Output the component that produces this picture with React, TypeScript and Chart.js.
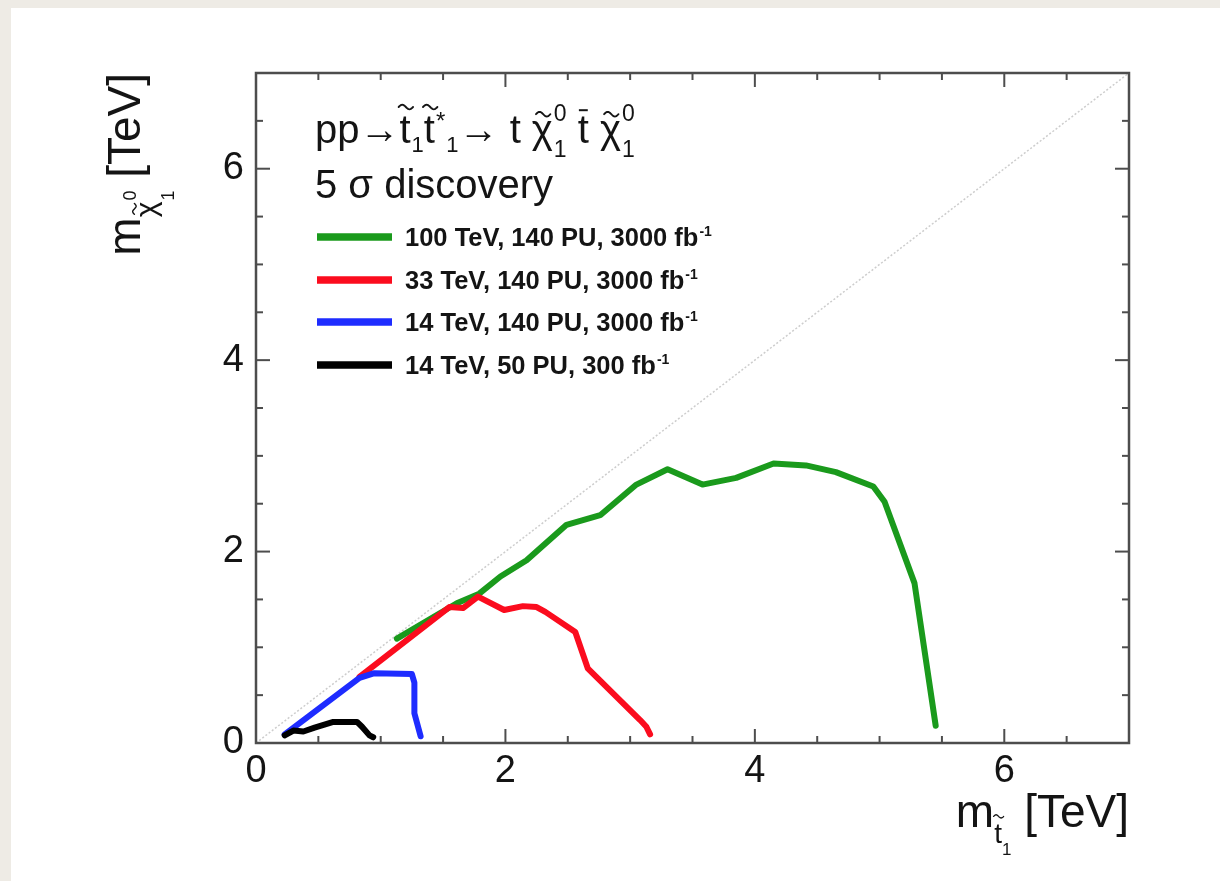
import React, { useEffect, useRef } from "react";
import { Chart, registerables } from "chart.js";

Chart.register(...registerables);

const FONT = '"Liberation Sans", Arial, Helvetica, sans-serif';

// Axis ranges (TeV) and tick layout
const axisMin = 0;
const axisMax = 7;
const tickStep = 0.5;
const labelledTicks = [0, 2, 4, 6];

// Legend entries, drawn top to bottom
const seriesLabels = [
  "100 TeV, 140 PU, 3000 fb^{-1}",
  "33 TeV, 140 PU, 3000 fb^{-1}",
  "14 TeV, 140 PU, 3000 fb^{-1}",
  "14 TeV, 50 PU, 300 fb^{-1}",
];
const seriesColors = ["#1a9a1c", "#fb0c1e", "#1e2cff", "#000000"];

// 100 TeV, 140 PU, 3000 fb-1 : stop mass vs neutralino mass (TeV)
const stop100 = [1.13, 1.31, 1.61, 1.79, 1.96, 2.17, 2.49, 2.76, 3.05, 3.3, 3.58, 3.85, 4.15, 4.41, 4.65, 4.95, 5.04, 5.28, 5.45];
const lsp100 = [1.09, 1.23, 1.46, 1.56, 1.74, 1.91, 2.28, 2.38, 2.7, 2.86, 2.7, 2.77, 2.92, 2.9, 2.83, 2.68, 2.52, 1.67, 0.18];

// 33 TeV, 140 PU, 3000 fb-1
const stop33 = [0.83, 1.55, 1.66, 1.78, 1.99, 2.14, 2.25, 2.32, 2.56, 2.66, 3.08, 3.13, 3.16];
const lsp33 = [0.69, 1.42, 1.41, 1.53, 1.39, 1.43, 1.42, 1.37, 1.16, 0.78, 0.24, 0.17, 0.09];

// 14 TeV, 140 PU, 3000 fb-1
const stop14hl = [0.23, 0.83, 0.95, 1.25, 1.27, 1.27, 1.32];
const lsp14hl = [0.09, 0.68, 0.73, 0.72, 0.63, 0.31, 0.07];

// 14 TeV, 50 PU, 300 fb-1
const stop14 = [0.23, 0.3, 0.38, 0.47, 0.62, 0.81, 0.85, 0.91, 0.94];
const lsp14 = [0.08, 0.13, 0.12, 0.16, 0.22, 0.22, 0.17, 0.08, 0.06];

// Kinematic diagonal m_stop = m_LSP
const diagonal = [0, 7];

const seriesX = [stop100, stop33, stop14hl, stop14];
const seriesY = [lsp100, lsp33, lsp14hl, lsp14];

type Run = {
  t: string;
  size: number;
  dy?: number;
  bold?: boolean;
  tilde?: boolean;
  tildeAt?: number;
  bar?: boolean;
  sup?: string;
  sub?: string;
  scriptSize?: number;
  supDy?: number;
  subDy?: number;
};

function setFont(ctx: CanvasRenderingContext2D, size: number, bold?: boolean) {
  ctx.font = `${bold ? "bold " : ""}${size}px ${FONT}`;
}

function runWidth(ctx: CanvasRenderingContext2D, r: Run) {
  setFont(ctx, r.size, r.bold);
  let w = r.t ? ctx.measureText(r.t).width : 0;
  if (r.sup || r.sub) {
    setFont(ctx, r.scriptSize || r.size * 0.6, r.bold);
    const a = r.sup ? ctx.measureText(r.sup).width : 0;
    const b = r.sub ? ctx.measureText(r.sub).width : 0;
    w += Math.max(a, b) + 1;
  }
  return w;
}

function drawTilde(ctx: CanvasRenderingContext2D, cx: number, cy: number, w: number) {
  const h = w * 0.16;
  ctx.save();
  ctx.lineWidth = Math.max(1.3, w * 0.13);
  ctx.strokeStyle = ctx.fillStyle as string;
  ctx.lineCap = "round";
  ctx.beginPath();
  for (let i = 0; i <= 20; i++) {
    const s = i / 20;
    const px = cx - w / 2 + w * s;
    const py = cy - h * Math.sin(2 * Math.PI * s);
    if (i === 0) ctx.moveTo(px, py);
    else ctx.lineTo(px, py);
  }
  ctx.stroke();
  ctx.restore();
}

function drawRuns(ctx: CanvasRenderingContext2D, x: number, y: number, runs: Run[], align: "left" | "right" = "left") {
  ctx.textAlign = "left";
  ctx.textBaseline = "alphabetic";
  const total = runs.reduce((s, r) => s + runWidth(ctx, r), 0);
  let cx = align === "right" ? x - total : x;
  for (const r of runs) {
    const by = y + (r.dy || 0);
    setFont(ctx, r.size, r.bold);
    let w = 0;
    if (r.t) {
      ctx.fillText(r.t, cx, by);
      w = ctx.measureText(r.t).width;
    }
    if (r.tilde) drawTilde(ctx, cx + w / 2 + r.size * 0.02, by - r.size * (r.tildeAt ?? 0.86), r.size * 0.36);
    if (r.bar) {
      ctx.save();
      ctx.strokeStyle = ctx.fillStyle as string;
      ctx.lineWidth = Math.max(1.3, r.size * 0.05);
      ctx.beginPath();
      ctx.moveTo(cx + w * 0.1, by - r.size * 0.82);
      ctx.lineTo(cx + w * 0.9, by - r.size * 0.82);
      ctx.stroke();
      ctx.restore();
    }
    if (r.sup || r.sub) {
      const ss = r.scriptSize || r.size * 0.6;
      setFont(ctx, ss, r.bold);
      if (r.sup) ctx.fillText(r.sup, cx + w + 1, by + (r.supDy ?? -r.size * 0.5));
      if (r.sub) ctx.fillText(r.sub, cx + w + 1, by + (r.subDy ?? r.size * 0.3));
    }
    cx += runWidth(ctx, r);
  }
}

function splitSup(label: string): [string, string] {
  const m = label.match(/^(.*)\^\{(.*)\}$/);
  return m ? [m[1], m[2]] : [label, ""];
}

const backdrop = {
  id: "backdrop",
  beforeDraw(chart: Chart) {
    const { ctx, width, height } = chart;
    ctx.save();
    ctx.fillStyle = "#eeebe5";
    ctx.fillRect(0, 0, width, height);
    ctx.fillStyle = "#ffffff";
    ctx.fillRect(11, 8, width - 11, height - 8);
    ctx.restore();
  },
};

const frame = {
  id: "frame",
  afterDatasetsDraw(chart: Chart) {
    const { ctx, chartArea: a } = chart;
    const xs = chart.scales.x;
    const ys = chart.scales.y;
    ctx.save();
    ctx.strokeStyle = "#4d4d4d";
    ctx.lineWidth = 2;
    const seg = (x1: number, y1: number, x2: number, y2: number) => {
      ctx.beginPath();
      ctx.moveTo(x1, y1);
      ctx.lineTo(x2, y2);
      ctx.stroke();
    };
    for (const t of xs.ticks) {
      const px = xs.getPixelForValue(t.value);
      const len = labelledTicks.includes(t.value) ? 14 : 7;
      seg(px, a.bottom, px, a.bottom - len);
      seg(px, a.top, px, a.top + len);
    }
    for (const t of ys.ticks) {
      const py = ys.getPixelForValue(t.value);
      const len = labelledTicks.includes(t.value) ? 14 : 7;
      seg(a.left, py, a.left + len, py);
      seg(a.right, py, a.right - len, py);
    }
    ctx.lineWidth = 2.5;
    ctx.strokeRect(a.left, a.top, a.right - a.left, a.bottom - a.top);
    ctx.restore();
  },
};

const texts = {
  id: "texts",
  afterDraw(chart: Chart) {
    const { ctx, chartArea: a } = chart;
    ctx.save();
    ctx.fillStyle = "#141414";

    // Process and selection text
    const H = 40;
    drawRuns(ctx, 315, 143, [
      { t: "pp", size: H },
      { t: "→", size: H },
      { t: "t", size: H, tilde: true, tildeAt: 0.9 },
      { t: "", size: H, sub: "1", scriptSize: 22, subDy: 9 },
      { t: "t", size: H, tilde: true, tildeAt: 0.9 },
      { t: "", size: H, sup: "*", scriptSize: 24, supDy: -14 },
      { t: "", size: H, sub: "1", scriptSize: 22, subDy: 9 },
      { t: "→ t ", size: H },
      { t: "χ", size: H, tilde: true, tildeAt: 0.72, sup: "0", sub: "1", scriptSize: 23, supDy: -22, subDy: 14 },
      { t: " ", size: H },
      { t: "t", size: H, bar: true },
      { t: " ", size: H },
      { t: "χ", size: H, tilde: true, tildeAt: 0.72, sup: "0", sub: "1", scriptSize: 23, supDy: -22, subDy: 14 },
    ]);
    drawRuns(ctx, 315, 198, [{ t: "5 σ discovery", size: H }]);

    // Legend
    const rowY = [237, 280, 322, 365];
    seriesLabels.forEach((label, i) => {
      const y = rowY[i];
      ctx.save();
      ctx.strokeStyle = seriesColors[i];
      ctx.lineWidth = 7.5;
      ctx.beginPath();
      ctx.moveTo(317, y);
      ctx.lineTo(392, y);
      ctx.stroke();
      ctx.restore();
      const [base, sup] = splitSup(label);
      drawRuns(ctx, 405, y + 9, [{ t: base, size: 25.5, bold: true, sup, scriptSize: 14, supDy: -10 }]);
    });

    // X axis title
    drawRuns(
      ctx,
      a.right,
      827,
      [
        { t: "m", size: 46 },
        { t: "t", size: 28, dy: 16, tilde: true, tildeAt: 0.95 },
        { t: "1", size: 17, dy: 28 },
        { t: " [TeV]", size: 46 },
      ],
      "right"
    );

    // Y axis title, rotated
    ctx.save();
    ctx.translate(140, a.top);
    ctx.rotate(-Math.PI / 2);
    drawRuns(
      ctx,
      0,
      0,
      [
        { t: "m", size: 46 },
        { t: "χ", size: 30, dy: 16, tilde: true, tildeAt: 0.72, sup: "0", sub: "1", scriptSize: 18, supDy: -20, subDy: 18 },
        { t: " [TeV]", size: 46 },
      ],
      "right"
    );
    ctx.restore();

    ctx.restore();
  },
};

function line(xs: number[], ys: number[]) {
  return xs.map((x, i) => ({ x, y: ys[i] }));
}

export default function App() {
  const ref = useRef<HTMLCanvasElement>(null);

  useEffect(() => {
    if (!ref.current) return;
    const curves = seriesLabels.map((label, i) => ({
      label,
      data: line(seriesX[i], seriesY[i]),
      borderColor: seriesColors[i],
      backgroundColor: seriesColors[i],
      borderWidth: 6,
      pointRadius: 0,
      showLine: true,
      fill: false,
      tension: 0,
      borderJoinStyle: "round" as const,
      borderCapStyle: "round" as const,
      order: seriesLabels.length - 1 - i,
    }));
    const diag = {
      label: "",
      data: line(diagonal, diagonal),
      borderColor: "#cdcdcd",
      backgroundColor: "#cdcdcd",
      borderWidth: 1.5,
      borderDash: [2, 2],
      pointRadius: 0,
      showLine: true,
      fill: false,
      order: 10,
    };

    const tickFont = { family: FONT, size: 38 };
    const chart = new Chart(ref.current, {
      type: "scatter",
      data: { datasets: [diag, ...curves] as any },
      options: {
        responsive: false,
        animation: false,
        events: [],
        layout: { padding: { left: 196, right: 91, top: 73, bottom: 88 } },
        plugins: { legend: { display: false }, tooltip: { enabled: false } },
        scales: {
          x: {
            type: "linear",
            min: axisMin,
            max: axisMax,
            grid: { display: false, drawTicks: false },
            border: { display: false },
            ticks: {
              stepSize: tickStep,
              autoSkip: false,
              maxRotation: 0,
              padding: 6,
              color: "#141414",
              font: tickFont,
              callback: (v: any) => (labelledTicks.includes(Number(v)) ? String(v) : ""),
            },
            afterFit: (s: any) => {
              s.height = 50;
            },
          },
          y: {
            type: "linear",
            min: axisMin,
            max: axisMax,
            grid: { display: false, drawTicks: false },
            border: { display: false },
            ticks: {
              stepSize: tickStep,
              autoSkip: false,
              padding: 12,
              color: "#141414",
              font: tickFont,
              callback: (v: any) => (labelledTicks.includes(Number(v)) ? String(v) : ""),
            },
            afterFit: (s: any) => {
              s.width = 60;
            },
          },
        },
      },
      plugins: [backdrop, frame, texts],
    });
    return () => chart.destroy();
  }, []);

  return (
    <div style={{ position: "fixed", left: 0, top: 0, width: 1220, height: 881 }}>
      <canvas ref={ref} width={1220} height={881} style={{ display: "block" }} />
    </div>
  );
}
